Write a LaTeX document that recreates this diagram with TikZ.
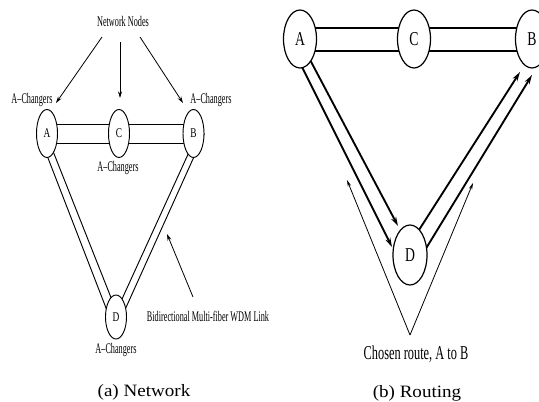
\documentclass[tikz,border=0pt]{standalone}
\usepackage{fontspec}
\usepackage{graphicx}
\setmainfont{Liberation Serif}
\usetikzlibrary{shapes.geometric,arrows.meta,calc,backgrounds}
\newcommand{\cnd}[2]{\scalebox{#1}[1]{#2}}
\begin{document}
\begin{tikzpicture}[x=0.75pt,y=-0.75pt,
  lnode/.style={draw,ellipse,inner sep=0pt,minimum width=15.75pt,minimum height=36pt,fill=white,line width=0.7pt,font=\fontsize{10}{12}\selectfont},
  rnode/.style={draw,ellipse,inner sep=0pt,minimum width=24.75pt,minimum height=43.5pt,fill=white,line width=0.9pt,font=\fontsize{14.7}{17}\selectfont},
  lbl/.style={inner sep=0pt,font=\fontsize{11}{13}\selectfont},
  rlbl/.style={inner sep=0pt,font=\fontsize{14.7}{17}\selectfont},
  captxt/.style={inner sep=0pt,font=\fontsize{13}{15}\selectfont},
  thinln/.style={line width=0.7pt},
  stripln/.style={line width=0.9pt},
  thinarrow/.style={line width=0.6pt,-{Stealth[length=5pt,width=3pt]}},
  thickarrow/.style={line width=1.4pt,-{Stealth[length=7pt,width=4pt]}},
  varrow/.style={line width=0.6pt,-{Stealth[length=5pt,width=2.6pt]}}
]
\useasboundingbox (0,0) rectangle (539,402);

% ---------- (a) Network ----------
\node[lnode] (la) at (47,133.5) {\cnd{0.7}{A}};
\node[lnode] (lc) at (119,133.5) {\cnd{0.7}{C}};
\node[lnode] (lb) at (193.5,133.5) {\cnd{0.7}{B}};
\node[lnode,minimum height=33pt] (ld) at (116,317) {\cnd{0.7}{D}};

\node[lbl] (nn) at (123,21) {\cnd{0.56}{Network Nodes}};
\node[lbl] (cha) at (32,100) {\cnd{0.56}{A--Changers}};
\node[lbl] (chb) at (211,100) {\cnd{0.56}{A--Changers}};
\node[lbl] (chc) at (118,168) {\cnd{0.56}{A--Changers}};
\node[lbl] (chd) at (116,350) {\cnd{0.56}{A--Changers}};
\node[lbl] (wdm) at (208,316) {\cnd{0.56}{Bidirectional Multi-fiber WDM Link}};
\node[captxt] (capa) at (144,392) {\cnd{1.1}{(a) Network}};

\coordinate (n1) at (102,37);
\coordinate (n2) at (120,42);
\coordinate (n3) at (140,37);
\coordinate (t1) at (56,103);
\coordinate (t2) at (120,98);
\coordinate (t3) at (183,103);
\draw[thinarrow] (n1) -- (t1);
\draw[thinarrow] (n2) -- (t2);
\draw[thinarrow] (n3) -- (t3);

\coordinate (wt) at (193,297);
\coordinate (wh) at (167,234);
\draw[thinarrow] (wt) -- (wh);

\begin{scope}[on background layer]
  \draw[thinln] ($(la)+(0,-9.5)$) -- ($(lc)+(0,-9.5)$);
  \draw[thinln] ($(la)+(0,9.5)$) -- ($(lc)+(0,9.5)$);
  \draw[thinln] ($(lc)+(0,-9.5)$) -- ($(lb)+(0,-9.5)$);
  \draw[thinln] ($(lc)+(0,9.5)$) -- ($(lb)+(0,9.5)$);
  \draw[thinln] ($(la)+(-8.5,0)$) -- ($(ld)+(-6.5,0)$);
  \draw[thinln] ($(la)+(-1,0)$) -- ($(ld)+(2.7,0)$);
  \draw[thinln] ($(lb)+(4,0)$) -- ($(ld)+(-2.2,0)$);
  \draw[thinln] ($(lb)+(11,0)$) -- ($(ld)+(5.7,0)$);
\end{scope}

% ---------- (b) Routing ----------
\node[rnode] (ra) at (300,39) {\cnd{0.7}{A}};
\node[rnode] (rc) at (414,39) {\cnd{0.7}{C}};
\node[rnode] (rb) at (532,39) {\cnd{0.7}{B}};
\node[rnode,minimum width=25.5pt,minimum height=45pt] (rd) at (410,255) {\cnd{0.7}{D}};

\node[rlbl] (route) at (416,354) {\cnd{0.63}{Chosen route, A to B}};
\node[captxt] (capb) at (417,393) {\cnd{1.1}{(b) Routing}};

\coordinate (apex) at (410,335);
\coordinate (vl) at (347,180);
\coordinate (vr) at (473,183);
\draw[varrow] (apex) -- (vl);
\draw[varrow] (apex) -- (vr);

\begin{scope}[on background layer]
  \draw[stripln] ($(ra)+(0,-11)$) -- ($(rc)+(0,-11)$);
  \draw[stripln] ($(ra)+(0,12)$) -- ($(rc)+(0,12)$);
  \draw[stripln] ($(rc)+(0,-11)$) -- ($(rb)+(0,-11)$);
  \draw[stripln] ($(rc)+(0,12)$) -- ($(rb)+(0,12)$);
  \draw[thickarrow] ($(ra)+(-12,0)$) -- ($(rd)+(-18,-8)$);
  \draw[thickarrow] ($(ra)+(-1,0)$) -- ($(rd)+(-12,-29)$);
  \draw[thickarrow] ($(rd)+(-7,0)$) -- ($(rb)+(-12,33)$);
  \draw[thickarrow] ($(rd)+(12,0)$) -- ($(rb)+(0,36)$);
\end{scope}
\end{tikzpicture}
\end{document}
